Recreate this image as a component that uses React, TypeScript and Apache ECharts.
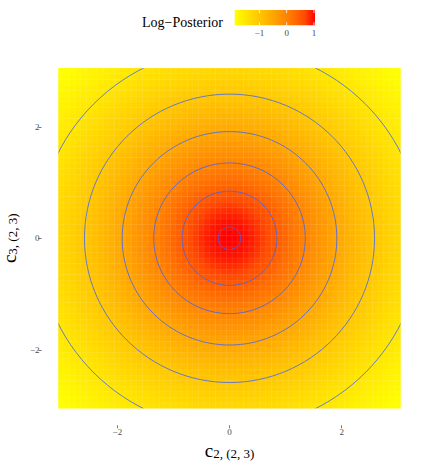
import React, { useEffect, useRef } from "react";
import * as echarts from "echarts";

// ---- data ----
// grid of parameter values for c2 and c3 (tile centres, step 0.1)
const C2_GRID: number[] = Array.from({ length: 61 }, (_, i) => +(-3 + i * 0.1).toFixed(1));
const C3_GRID: number[] = Array.from({ length: 61 }, (_, i) => +(-3 + i * 0.1).toFixed(1));
// log-posterior surface: peak value at the origin, log(1 + r^2) decay
const LOG_POSTERIOR_PEAK = 1.04;
// contour levels drawn over the surface
const CONTOUR_LEVELS: number[] = [1.0, 0.5, 0.0, -0.5, -1.0, -1.5];
// tick labels
const AXIS_TICKS: number[] = [-2, 0, 2];
const LEGEND_TICKS: number[] = [-1, 0, 1];
// fill colour ramp (yellow -> red)
const FILL_COLORS: string[] = [
  "#FFFF00", "#FFE800", "#FFD100", "#FFBA00", "#FFA100",
  "#FF8800", "#FF6C00", "#FF4900", "#FF0000",
];
const CONTOUR_COLOR = "#3D66F0";

const FONT = "'Liberation Serif', 'Times New Roman', serif";

function logPosterior(c2: number, c3: number): number {
  return LOG_POSTERIOR_PEAK - Math.log(1 + c2 * c2 + c3 * c3);
}

const minus = (v: number) => String(v).replace("-", "\u2212");

export default function App() {
  const ref = useRef<HTMLDivElement>(null);

  useEffect(() => {
    if (!ref.current) return;
    const chart = echarts.init(ref.current, undefined, { renderer: "svg" });

    const heat: [number, number, number][] = [];
    let vMin = Infinity;
    let vMax = -Infinity;
    C2_GRID.forEach((c2, i) => {
      C3_GRID.forEach((c3, j) => {
        const v = logPosterior(c2, c3);
        vMin = Math.min(vMin, v);
        vMax = Math.max(vMax, v);
        heat.push([i, j, v]);
      });
    });

    // radius (in parameter units) of each contour level of the surface
    const contourData = CONTOUR_LEVELS.map((lv) => [
      Math.sqrt(Math.exp(LOG_POSTERIOR_PEAK - lv) - 1),
    ]);

    const half = 0.05;
    const lo = C2_GRID[0] - half;
    const hi = C2_GRID[C2_GRID.length - 1] + half;

    const nameRich = {
      c: { fontSize: 19, fontFamily: FONT, color: "#000", lineHeight: 18, verticalAlign: "middle" },
      s: { fontSize: 13, fontFamily: FONT, color: "#000", lineHeight: 6, verticalAlign: "bottom" },
    };

    const tickLabel = {
      fontSize: 9,
      fontFamily: FONT,
      color: "#4D4D4D",
    };

    const option: any = {
      animation: false,
      grid: [
        { left: 58.5, top: 68.3, width: 342, height: 340, containLabel: false, outerBoundsMode: "none" },
        { left: 234.7, top: 10, width: 80.3, height: 15.3, containLabel: false, outerBoundsMode: "none" },
      ],
      xAxis: [
        { type: "category", gridIndex: 0, data: C2_GRID.map(String), show: false },
        {
          type: "value",
          gridIndex: 0,
          min: lo,
          max: hi,
          position: "bottom",
          offset: 17,
          axisLine: { show: false },
          splitLine: { show: false },
          axisTick: { show: true, customValues: AXIS_TICKS, length: 3, lineStyle: { color: "#555", width: 0.8 } },
          axisLabel: { ...tickLabel, customValues: AXIS_TICKS, formatter: minus, margin: 2 },
          name: "{c|c}{s|2, (2, 3)}",
          nameLocation: "middle",
          nameGap: 10,
          nameTextStyle: { rich: nameRich },
        },
        {
          type: "value",
          gridIndex: 1,
          min: vMin,
          max: vMax,
          axisLine: { show: false },
          axisTick: { show: false },
          splitLine: { show: false },
          axisLabel: { ...tickLabel, customValues: LEGEND_TICKS, formatter: minus, margin: 3 },
        },
      ],
      yAxis: [
        { type: "category", gridIndex: 0, data: C3_GRID.map(String), show: false },
        {
          type: "value",
          gridIndex: 0,
          min: lo,
          max: hi,
          position: "left",
          offset: 17,
          axisLine: { show: false },
          splitLine: { show: false },
          axisTick: { show: true, customValues: AXIS_TICKS, length: 3, lineStyle: { color: "#555", width: 0.8 } },
          axisLabel: { ...tickLabel, customValues: AXIS_TICKS, formatter: minus, margin: 2 },
          name: "{c|c}{s|3, (2, 3)}",
          nameLocation: "middle",
          nameGap: 18,
          nameTextStyle: { rich: nameRich },
        },
        { type: "value", gridIndex: 1, min: 0, max: 1, show: false },
      ],
      visualMap: {
        type: "continuous",
        show: false,
        min: vMin,
        max: vMax,
        dimension: 2,
        seriesIndex: 0,
        inRange: { color: FILL_COLORS },
      },
      series: [
        {
          type: "heatmap",
          xAxisIndex: 0,
          yAxisIndex: 0,
          data: heat,
          progressive: 0,
          itemStyle: { borderColor: "rgba(255,255,255,0.12)", borderWidth: 0.6 },
          emphasis: { disabled: true },
        },
        {
          type: "custom",
          xAxisIndex: 1,
          yAxisIndex: 1,
          data: contourData,
          silent: true,
          z: 5,
          renderItem: (params: any, api: any) => {
            const r = api.value(0);
            const c = api.coord([0, 0]);
            const sz = api.size([r, r]);
            const cs = params.coordSys;
            return {
              type: "group",
              children: [
                {
                  type: "ellipse",
                  shape: { cx: c[0], cy: c[1], rx: sz[0], ry: sz[1] },
                  style: { fill: "none", stroke: CONTOUR_COLOR, lineWidth: 0.8 },
                },
              ],
              clipPath: {
                type: "rect",
                shape: { x: cs.x, y: cs.y, width: cs.width, height: cs.height },
              },
            };
          },
        },
        {
          type: "custom",
          xAxisIndex: 2,
          yAxisIndex: 2,
          data: [[0]],
          silent: true,
          renderItem: (params: any, api: any) => {
            const cs = params.coordSys;
            const stops = FILL_COLORS.map((col, k) => ({
              offset: k / (FILL_COLORS.length - 1),
              color: col,
            }));
            const children: any[] = [
              {
                type: "rect",
                shape: { x: cs.x, y: cs.y, width: cs.width, height: cs.height },
                style: {
                  fill: new echarts.graphic.LinearGradient(0, 0, 1, 0, stops),
                },
              },
            ];
            const tl = cs.height / 5;
            LEGEND_TICKS.forEach((t) => {
              const x = api.coord([t, 0])[0];
              children.push({
                type: "line",
                shape: { x1: x, y1: cs.y, x2: x, y2: cs.y + tl },
                style: { stroke: "#fff", lineWidth: 0.8 },
              });
              children.push({
                type: "line",
                shape: { x1: x, y1: cs.y + cs.height - tl, x2: x, y2: cs.y + cs.height },
                style: { stroke: "#fff", lineWidth: 0.8 },
              });
            });
            return { type: "group", children };
          },
        },
      ],
      graphic: [
        {
          type: "text",
          right: 421 - 223,
          top: 15,
          style: {
            text: "Log\u2212Posterior",
            fontSize: 14,
            fontFamily: FONT,
            fill: "#000",
          },
        },
      ],
    };

    chart.setOption(option);
    return () => chart.dispose();
  }, []);

  return (
    <div
      ref={ref}
      style={{ position: "fixed", left: 0, top: 0, width: 421, height: 468, background: "#fff" }}
    />
  );
}
